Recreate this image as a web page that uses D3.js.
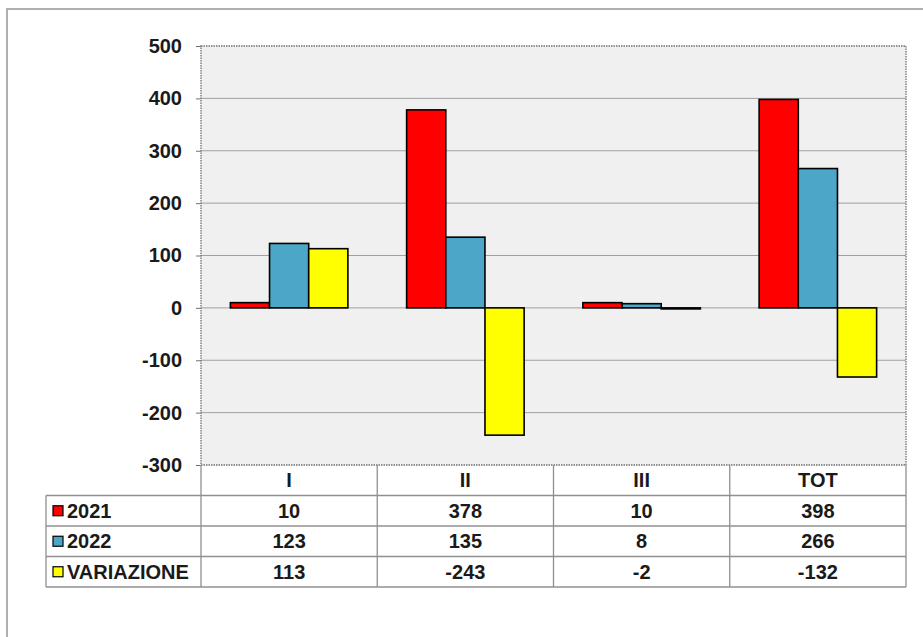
<!DOCTYPE html>
<html>
<head>
<meta charset="utf-8">
<script src="https://cdn.jsdelivr.net/npm/d3@7"></script>
<style>
  body { margin: 0; background: #fff; }
  text { font-family: "Liberation Sans", Arial, sans-serif; font-weight: bold; fill: #1a1a1a; }
</style>
</head>
<body>
<svg width="923" height="637"></svg>
<script>
var categories = ["I", "II", "III", "TOT"];
var seriesNames = ["2021", "2022", "VARIAZIONE"];
var values2021 = [10, 378, 10, 398];
var values2022 = [123, 135, 8, 266];
var valuesVar = [113, -243, -2, -132];
var yTicks = [-300, -200, -100, 0, 100, 200, 300, 400, 500];
var colors = ["#ff0000", "#4ba6c8", "#ffff00"];

var series = [values2021, values2022, valuesVar];
var fontSize = 20;

var svg = d3.select("svg"),
  margin = { top: 46, left: 201, right: 17, bottom: 172 },
  width = 923 - margin.left - margin.right,
  height = 637 - margin.top - margin.bottom;

// outer frame (only left and top are visible)
svg.append("path")
  .attr("d", "M7,637V9H923")
  .attr("fill", "none")
  .attr("stroke", "#b0b0b0")
  .attr("stroke-width", 2);

var g = svg.append("g")
  .attr("transform", "translate(" + margin.left + "," + margin.top + ")");

var x = d3.scaleBand().domain(categories).range([0, width]).paddingInner(0).paddingOuter(0);
var y = d3.scaleLinear().domain([-300, 500]).range([height, 0]);

// inner band: 3 bars with gap of 1.5 bar widths split on both sides
var x1 = d3.scaleBand().domain(seriesNames).range([0, x.bandwidth()])
  .paddingInner(0).paddingOuter(0.75);

g.append("rect")
  .attr("width", width)
  .attr("height", height)
  .attr("fill", "#f0f0f0");

g.selectAll(".grid")
  .data(yTicks.filter(function(d) { return d !== 500 && d !== -300; }))
  .enter().append("line")
  .attr("class", "grid")
  .attr("x1", 0).attr("x2", width)
  .attr("y1", function(d) { return y(d); })
  .attr("y2", function(d) { return y(d); })
  .attr("stroke", "#a0a0a0")
  .attr("stroke-width", 1);

var groups = g.selectAll(".cat")
  .data(categories)
  .enter().append("g")
  .attr("transform", function(d) { return "translate(" + x(d) + ",0)"; });

groups.selectAll("rect")
  .data(function(d, i) {
    return series.map(function(s, j) { return { name: seriesNames[j], value: s[i], j: j }; });
  })
  .enter().append("rect")
  .attr("x", function(d) { return x1(d.name); })
  .attr("y", function(d) { return y(Math.max(0, d.value)); })
  .attr("width", x1.bandwidth())
  .attr("height", function(d) { return Math.abs(y(d.value) - y(0)); })
  .attr("fill", function(d) { return colors[d.j]; })
  .attr("stroke", "#000")
  .attr("stroke-width", 1.6);

// plot border (dotted)
g.append("rect")
  .attr("width", width)
  .attr("height", height)
  .attr("fill", "none")
  .attr("stroke", "#707070")
  .attr("stroke-width", 1.3)
  .attr("stroke-dasharray", "1.5,1");

// y axis
var yAxis = g.append("g")
  .call(d3.axisLeft(y).tickValues(yTicks).tickSize(5).tickPadding(14).tickFormat(String));
yAxis.select(".domain").remove();
yAxis.selectAll(".tick line").attr("stroke", "#707070");
yAxis.selectAll(".tick text")
  .attr("font-family", "Liberation Sans, Arial, sans-serif")
  .attr("font-weight", "bold")
  .attr("font-size", fontSize)
  .attr("fill", "#1a1a1a");

// data table
var tableLeft = 46 - margin.left;
var rowH = 30.5;
var t = g.append("g").attr("transform", "translate(0," + height + ")");

var rows = [null].concat(seriesNames);
var lineColor = "#909090";

// horizontal lines
for (var i = 1; i <= rows.length; i++) {
  t.append("line")
    .attr("x1", tableLeft).attr("x2", width)
    .attr("y1", i * rowH).attr("y2", i * rowH)
    .attr("stroke", lineColor).attr("stroke-width", 1.3);
}

// vertical lines
t.append("line")
  .attr("x1", tableLeft).attr("x2", tableLeft)
  .attr("y1", rowH).attr("y2", rows.length * rowH)
  .attr("stroke", lineColor).attr("stroke-width", 1.3);
categories.forEach(function(c) {
  t.append("line")
    .attr("x1", x(c)).attr("x2", x(c))
    .attr("y1", 0).attr("y2", rows.length * rowH)
    .attr("stroke", lineColor).attr("stroke-width", 1.3);
});
t.append("line")
  .attr("x1", width).attr("x2", width)
  .attr("y1", 0).attr("y2", rows.length * rowH)
  .attr("stroke", lineColor).attr("stroke-width", 1.3);

// header labels
t.selectAll(".hdr")
  .data(categories)
  .enter().append("text")
  .attr("x", function(d) { return x(d) + x.bandwidth() / 2; })
  .attr("y", rowH / 2)
  .attr("dy", "0.36em")
  .attr("text-anchor", "middle")
  .attr("font-size", fontSize)
  .text(function(d) { return d; });

// series rows
seriesNames.forEach(function(name, j) {
  var cy = (j + 1) * rowH + rowH / 2;
  t.append("rect")
    .attr("x", tableLeft + 7)
    .attr("y", cy - 5)
    .attr("width", 10).attr("height", 10)
    .attr("fill", colors[j])
    .attr("stroke", "#000").attr("stroke-width", 1.2);
  t.append("text")
    .attr("x", tableLeft + 21)
    .attr("y", cy)
    .attr("dy", "0.36em")
    .attr("font-size", fontSize)
    .text(name);
  t.selectAll(".v" + j)
    .data(series[j])
    .enter().append("text")
    .attr("x", function(d, i) { return x(categories[i]) + x.bandwidth() / 2; })
    .attr("y", cy)
    .attr("dy", "0.36em")
    .attr("text-anchor", "middle")
    .attr("font-size", fontSize)
    .text(function(d) { return d; });
});
</script>
</body>
</html>
